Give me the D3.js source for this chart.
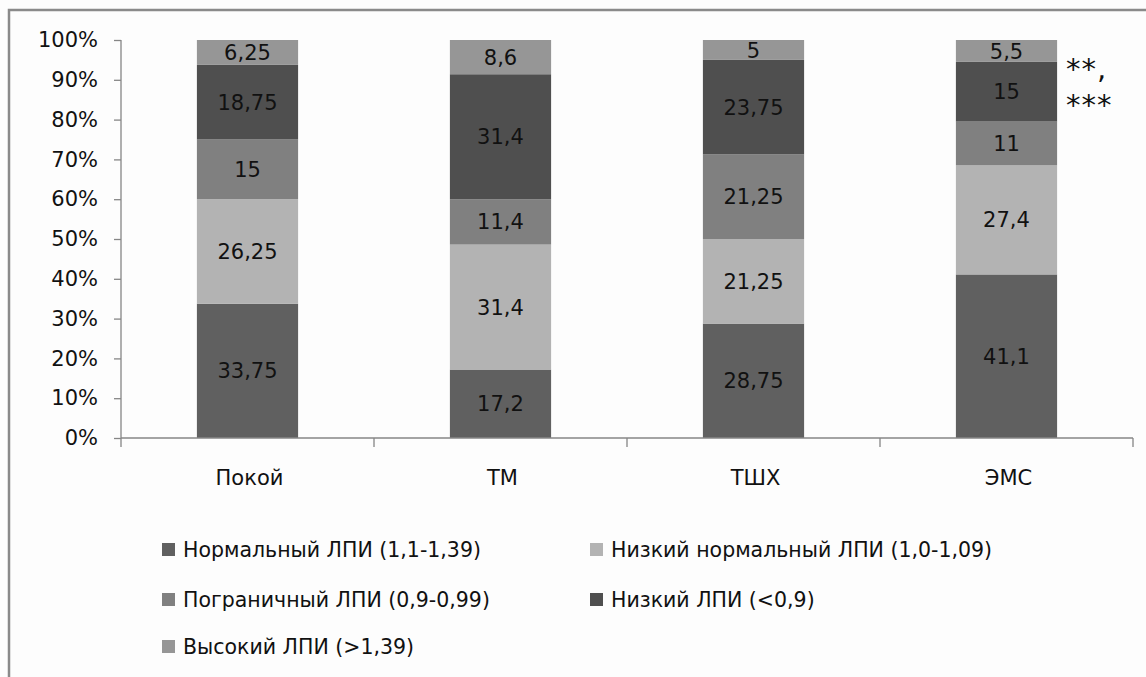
<!DOCTYPE html>
<html>
<head>
<meta charset="utf-8">
<script src="https://cdn.jsdelivr.net/npm/d3@7"></script>
<style>
  html, body { margin: 0; padding: 0; background: #fdfdfd; }
  svg { display: block; }
  text { font-family: "DejaVu Sans", sans-serif; fill: #111; }
</style>
</head>
<body>
<svg id="chart" width="1146" height="677"></svg>
<script>
// Groups along the x axis
const categories = ["Покой", "ТМ", "ТШХ", "ЭМС"];

// Share of each ABI class per group, %, stacked from the bottom up
const normalAbi    = [33.75, 17.2, 28.75, 41.1];
const lowNormalAbi = [26.25, 31.4, 21.25, 27.4];
const borderAbi    = [15,    11.4, 21.25, 11];
const lowAbi       = [18.75, 31.4, 23.75, 15];
const highAbi      = [6.25,  8.6,  5,     5.5];

const seriesNames = [
  "Нормальный ЛПИ (1,1-1,39)",
  "Низкий нормальный ЛПИ (1,0-1,09)",
  "Пограничный ЛПИ (0,9-0,99)",
  "Низкий ЛПИ (<0,9)",
  "Высокий ЛПИ (>1,39)"
];
const seriesColors = ["#606060", "#b3b3b3", "#808080", "#4f4f4f", "#969696"];

const yTicks = [0, 10, 20, 30, 40, 50, 60, 70, 80, 90, 100];
const note = ["**,", "***"];

const seriesValues = [normalAbi, lowNormalAbi, borderAbi, lowAbi, highAbi];
const fmt = v => String(v).replace(".", ",");

const rows = categories.map((c, i) => {
  const r = { cat: c };
  seriesNames.forEach((s, k) => { r[s] = seriesValues[k][i]; });
  return r;
});
const stacked = d3.stack().keys(seriesNames)(rows);

const svg = d3.select("#chart");
const W = 1146, H = 677;
const plot = { left: 121, right: 1133, top: 40, bottom: 438 };
const FS = 21;

// Outer frame
svg.append("rect").attr("x", 9).attr("y", 10).attr("width", W + 10).attr("height", H + 10)
  .attr("fill", "#fdfdfd").attr("stroke", "#8a8a8a").attr("stroke-width", 2.5);

const x = d3.scaleBand().domain(categories).range([plot.left, plot.right])
  .paddingInner(0.6).paddingOuter(0.3);
const xOuter = d3.scaleBand().domain(categories).range([plot.left, plot.right]);
const y = d3.scaleLinear().domain([0, 100]).range([plot.bottom, plot.top]);

// Bars
const layer = svg.append("g").selectAll("g").data(stacked).join("g")
  .attr("fill", (d, i) => seriesColors[i]);
layer.selectAll("rect").data(d => d).join("rect")
  .attr("x", d => x(d.data.cat))
  .attr("width", x.bandwidth())
  .attr("y", d => y(d[1]))
  .attr("height", d => y(d[0]) - y(d[1]));

// Value labels
layer.selectAll("text").data(d => d.map(v => ({ v, key: d.key }))).join("text")
  .attr("x", d => x(d.v.data.cat) + x.bandwidth() / 2)
  .attr("y", d => (y(d.v[0]) + y(d.v[1])) / 2)
  .attr("dy", "0.36em")
  .attr("text-anchor", "middle")
  .attr("font-size", FS)
  .text(d => fmt(d.v.data[d.key]));

// Y axis
const yAxis = svg.append("g").attr("transform", `translate(${plot.left},0)`)
  .call(d3.axisLeft(y).tickValues(yTicks).tickFormat(d => d + "%").tickSize(7).tickPadding(16));
yAxis.select(".domain").attr("stroke", "#868686").attr("stroke-width", 1.3).attr("d", `M0,${plot.top}V${plot.bottom}`);
yAxis.selectAll(".tick line").attr("stroke", "#868686").attr("stroke-width", 1.3);
yAxis.selectAll(".tick text").attr("font-size", FS).attr("font-family", "DejaVu Sans").attr("fill", "#111");

// X axis with ticks between groups
const xAxis = svg.append("g").attr("transform", `translate(0,${plot.bottom})`);
xAxis.append("line").attr("x1", plot.left).attr("x2", plot.right)
  .attr("stroke", "#868686").attr("stroke-width", 1.3);
const bounds = categories.map(c => xOuter(c)).concat([plot.right]);
xAxis.selectAll("line.tk").data(bounds).join("line").attr("class", "tk")
  .attr("x1", d => d).attr("x2", d => d).attr("y1", 0).attr("y2", 9)
  .attr("stroke", "#868686").attr("stroke-width", 1.3);
xAxis.selectAll("text").data(categories).join("text")
  .attr("x", d => xOuter(d) + xOuter.bandwidth() / 2 + 2)
  .attr("y", 47)
  .attr("text-anchor", "middle")
  .attr("font-size", FS)
  .text(d => d);

// Significance note beside the last bar
svg.append("g").selectAll("text").data(note).join("text")
  .attr("x", 1066)
  .attr("y", (d, i) => 79 + i * 36)
  .attr("font-family", "Liberation Serif, serif")
  .attr("font-size", 29)
  .attr("letter-spacing", 1)
  .text(d => d);

// Legend
const legendPos = [
  [162, 550], [590, 550],
  [162, 600], [590, 600],
  [162, 647]
];
const legend = svg.append("g").selectAll("g").data(seriesNames).join("g")
  .attr("transform", (d, i) => `translate(${legendPos[i][0]},${legendPos[i][1]})`);
legend.append("rect").attr("x", 0).attr("y", -7).attr("width", 13).attr("height", 13)
  .attr("fill", (d, i) => seriesColors[i]);
legend.append("text").attr("x", 21).attr("dy", "0.36em").attr("font-size", 20.5).text(d => d);
</script>
</body>
</html>
